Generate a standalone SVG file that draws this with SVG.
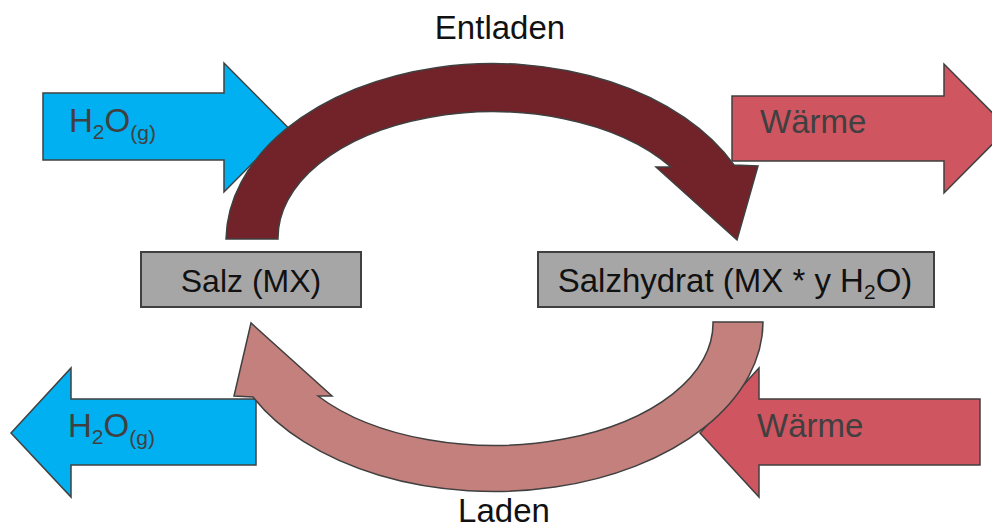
<svg xmlns="http://www.w3.org/2000/svg" width="992" height="530" viewBox="0 0 992 530">
<style>
text{font-family:"Liberation Sans",Arial,sans-serif;font-size:32px}
.blue{fill:#00b0f0;stroke:#404040;stroke-width:1.5}
.heat{fill:#cf5560;stroke:#404040;stroke-width:1.5}
.box{fill:#a6a6a6;stroke:#404040;stroke-width:2}
.lbl{fill:#404040;font-size:33px}
.dark{fill:#111111}
.big{font-size:33px}
.sub{font-size:21px}
.arcE{fill:#722229;stroke:#404040;stroke-width:1.5}
.arcL{fill:#c3807c;stroke:#404040;stroke-width:1.5}
</style>
<rect width="992" height="530" fill="#ffffff"/>
<g id="h2o-in">
<polygon class="blue" points="43,93 224,93 224,63 288,127.5 224,192 224,160 43,160"/>
<text class="lbl" x="69" y="132">H<tspan class="sub" dy="7">2</tspan><tspan dy="-7">O</tspan><tspan class="sub" dy="8">(g)</tspan></text>
</g>
<g id="waerme-out">
<polygon class="heat" points="732,96 944,96 944,64 1008,128.5 944,193 944,161 732,161"/>
<text class="lbl" x="760" y="133">Wärme</text>
</g>
<g id="h2o-out">
<polygon class="blue" points="11,433 71,368 71,399 256,399 256,465 71,465 71,497"/>
<text class="lbl" x="68" y="437">H<tspan class="sub" dy="7">2</tspan><tspan dy="-7">O</tspan><tspan class="sub" dy="8">(g)</tspan></text>
</g>
<g id="waerme-in">
<polygon class="heat" points="700,433 759,368 759,399 980,399 980,465 759,465 759,497"/>
<text class="lbl" x="757" y="437">Wärme</text>
</g>
<g id="connectors">
<path class="arcE" d="M226,239 A267,178 0 0 1 734,165 L758,166 L737,240 L656,167 L671,167 A215,126 0 0 0 278,239 Z"/>
<path class="arcL" d="M763,322 A269,170 0 0 1 253,397 L234,396 L251,323 L332,396 L318,396 A219,122 0 0 0 713,322 Z"/>
<text class="dark big" x="500" y="39" text-anchor="middle">Entladen</text>
<text class="dark big" x="504" y="522" text-anchor="middle">Laden</text>
</g>
<g id="salz">
<rect class="box" x="141" y="252" width="220" height="55"/>
<text class="dark" x="251" y="292" text-anchor="middle">Salz (MX)</text>
</g>
<g id="salzhydrat">
<rect class="box" x="538" y="252" width="396" height="55"/>
<text class="dark big" x="735" y="292" text-anchor="middle">Salzhydrat (MX * y H<tspan class="sub" dy="7">2</tspan><tspan dy="-7">O)</tspan></text>
</g>
</svg>
